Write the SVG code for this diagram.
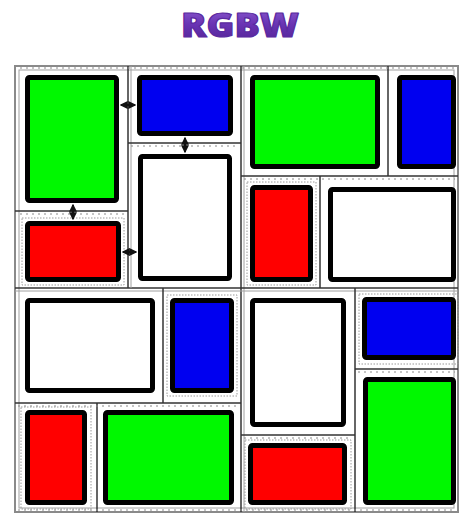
<svg xmlns="http://www.w3.org/2000/svg" width="459" height="515" viewBox="0 0 459 515">
<defs>
<linearGradient id="tg" x1="0" y1="0" x2="0" y2="1">
<stop offset="0" stop-color="#9466d8"/>
<stop offset="0.5" stop-color="#6a34b4"/>
<stop offset="1" stop-color="#4e2090"/>
</linearGradient>
<marker id="ah" viewBox="0 0 6 6" refX="5" refY="3" markerWidth="4" markerHeight="4" orient="auto-start-reverse">
<path d="M0,0 L6,3 L0,6 z" fill="#111"/>
</marker>
</defs>
<style>
.title{font-family:"Open Sans","Liberation Sans",sans-serif;font-weight:800;font-size:34px;fill:url(#tg);stroke:#5a2aa0;stroke-width:1.2;stroke-linejoin:round}
.frame{fill:none;stroke:#8a8a8a;stroke-width:2}
.div{stroke:#333;stroke-width:1.5;fill:none}
.div2{stroke:#a0a0a0;stroke-width:1;fill:none}
.tick{stroke:#8a8a8a;stroke-width:1;stroke-dasharray:2 4;fill:none}
.px{stroke:#000;stroke-width:5;stroke-linejoin:round}
.g{fill:#00f800}
.b{fill:#0000f0}
.r{fill:#ff0000}
.w{fill:#ffffff}
.halo{fill:none;stroke:#9a9a9a;stroke-width:1;stroke-dasharray:1.5 1.5}
.con{stroke:#111;stroke-width:2;fill:none;marker-start:url(#ah);marker-end:url(#ah)}
</style>
<rect width="459" height="515" fill="#ffffff"/>
<g id="title"><text class="title" x="240" y="37" text-anchor="middle" textLength="118" lengthAdjust="spacingAndGlyphs">RGBW</text></g>
<g id="grid">
<rect class="frame" x="15" y="66" width="443" height="446"/>
<rect class="div2" x="19" y="70" width="435" height="438"/>
<line class="div" x1="241" y1="66" x2="241" y2="512"/>
<line class="div2" x1="244" y1="66" x2="244" y2="512"/>
<line class="div" x1="15" y1="288" x2="458" y2="288"/>
<line class="div2" x1="15" y1="291" x2="458" y2="291"/>
<line class="div" x1="128" y1="66" x2="128" y2="288"/>
<line class="div2" x1="131" y1="66" x2="131" y2="288"/>
<line class="div" x1="15" y1="211" x2="128" y2="211"/>
<line class="div" x1="128" y1="143" x2="241" y2="143"/>
<line class="div" x1="241" y1="176" x2="458" y2="176"/>
<line class="div" x1="388" y1="66" x2="388" y2="176"/>
<line class="div" x1="320" y1="176" x2="320" y2="288"/>
<line class="div" x1="15" y1="403" x2="241" y2="403"/>
<line class="div" x1="163" y1="288" x2="163" y2="403"/>
<line class="div" x1="97" y1="403" x2="97" y2="512"/>
<line class="div" x1="355" y1="288" x2="355" y2="512"/>
<line class="div" x1="241" y1="435" x2="355" y2="435"/>
<line class="div" x1="355" y1="369" x2="458" y2="369"/>
<line class="tick" x1="20" y1="68" x2="454" y2="68"/>
<line class="tick" x1="20" y1="214" x2="125" y2="214"/>
<line class="tick" x1="131" y1="146" x2="238" y2="146"/>
<line class="tick" x1="244" y1="179" x2="455" y2="179"/>
<line class="tick" x1="18" y1="406" x2="238" y2="406"/>
<line class="tick" x1="244" y1="438" x2="352" y2="438"/>
<line class="tick" x1="358" y1="372" x2="455" y2="372"/>
<line class="tick" x1="18" y1="510" x2="455" y2="510"/>
</g>
<g id="n1"><rect class="px g" x="27.5" y="77.5" width="89" height="123" rx="2"/></g>
<g id="n2"><rect class="px b" x="139.5" y="77.5" width="91" height="56" rx="2"/></g>
<g id="n3"><rect class="px w" x="140.5" y="156.5" width="89" height="122" rx="2"/></g>
<g id="n4"><rect class="halo" x="22" y="218" width="102" height="67"/><rect class="px r" x="27.5" y="223.5" width="91" height="56" rx="2"/></g>
<g id="n5"><rect class="px g" x="252.5" y="77.5" width="125" height="89" rx="2"/></g>
<g id="n6"><rect class="px b" x="399.5" y="77.5" width="54" height="89" rx="2"/></g>
<g id="n7"><rect class="halo" x="247" y="182" width="69" height="103"/><rect class="px r" x="252.5" y="187.5" width="58" height="92" rx="2"/></g>
<g id="n8"><rect class="px w" x="330.5" y="189.5" width="123" height="90" rx="2"/></g>
<g id="n9"><rect class="px w" x="27.5" y="300.5" width="125" height="90" rx="2"/></g>
<g id="n10"><rect class="halo" x="167" y="295" width="70" height="101"/><rect class="px b" x="172.5" y="300.5" width="59" height="90" rx="2"/></g>
<g id="n11"><rect class="halo" x="21" y="407" width="70" height="102"/><rect class="px r" x="27.5" y="412.5" width="57" height="90" rx="2"/></g>
<g id="n12"><rect class="px g" x="105.5" y="412.5" width="126" height="90" rx="2"/></g>
<g id="n13"><rect class="px w" x="252.5" y="300.5" width="91" height="124" rx="2"/></g>
<g id="n14"><rect class="halo" x="245" y="440" width="106" height="69"/><rect class="px r" x="250.5" y="445.5" width="94" height="57" rx="2"/></g>
<g id="n15"><rect class="halo" x="359" y="294" width="99" height="70"/><rect class="px b" x="364.5" y="299.5" width="89" height="58" rx="2"/></g>
<g id="n16"><rect class="px g" x="365.5" y="379.5" width="88" height="123" rx="2"/></g>
<g id="connectors">
<line class="con" x1="121" y1="105" x2="135" y2="105"/>
<line class="con" x1="185" y1="138" x2="185" y2="152"/>
<line class="con" x1="73" y1="205" x2="73" y2="219"/>
<line class="con" x1="123" y1="252" x2="136" y2="252"/>
</g>
</svg>
